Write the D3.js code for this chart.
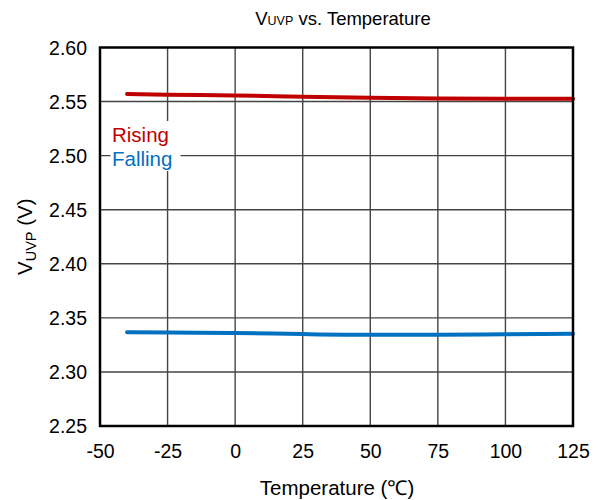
<!DOCTYPE html>
<html>
<head>
<meta charset="utf-8">
<script src="https://cdn.jsdelivr.net/npm/d3@7"></script>
<style>
  html, body { margin: 0; padding: 0; background: #fff; }
  svg { display: block; font-family: "Liberation Sans", Arial, sans-serif; }
</style>
</head>
<body>
<svg id="chart" width="599" height="500"></svg>
<script>
// Temperature sweep points (°C)
const temperatures = [-40, -25, 0, 25, 50, 75, 100, 125];
// Rising UVP threshold (V)
const risingValues = [2.5570, 2.5564, 2.5557, 2.5545, 2.5535, 2.5528, 2.5526, 2.5526];
// Falling UVP threshold (V)
const fallingValues = [2.3367, 2.3364, 2.3361, 2.3350, 2.3344, 2.3344, 2.3348, 2.3352];
const xTicks = [-50, -25, 0, 25, 50, 75, 100, 125];
const yTicks = [2.25, 2.30, 2.35, 2.40, 2.45, 2.50, 2.55, 2.60];
const seriesNames = ["Rising", "Falling"];
const seriesColors = ["#c00000", "#0070c0"];

const svg = d3.select("#chart");
const m = { left: 100, right: 573, top: 47.5, bottom: 426 };

const x = d3.scaleLinear().domain([-50, 125]).range([m.left, m.right]);
const y = d3.scaleLinear().domain([2.25, 2.60]).range([m.bottom, m.top]);

// Grid lines
const grid = svg.append("g");
grid.selectAll("line.v").data(xTicks.slice(1, -1)).enter().append("line")
  .attr("x1", d => x(d)).attr("x2", d => x(d))
  .attr("y1", m.top).attr("y2", m.bottom)
  .attr("stroke", "#444").attr("stroke-width", 1.4);
grid.selectAll("line.h").data(yTicks.slice(1, -1)).enter().append("line")
  .attr("x1", m.left).attr("x2", m.right)
  .attr("y1", d => y(d)).attr("y2", d => y(d))
  .attr("stroke", "#444").attr("stroke-width", 1.4);

// Data lines
const line = d3.line().x(d => x(d[0])).y(d => y(d[1])).curve(d3.curveMonotoneX);
[risingValues, fallingValues].forEach((vals, i) => {
  svg.append("path")
    .datum(temperatures.map((t, j) => [t, vals[j]]))
    .attr("d", line)
    .attr("fill", "none")
    .attr("stroke", seriesColors[i])
    .attr("stroke-width", 4)
    .attr("stroke-linecap", "round");
});

// Legend with white backing
const legend = svg.append("g");
legend.append("rect")
  .attr("x", 110.5).attr("y", 121).attr("width", 70).attr("height", 50)
  .attr("fill", "#fff");
seriesNames.forEach((name, i) => {
  legend.append("text")
    .attr("x", 112).attr("y", 141.5 + i * 24.5)
    .attr("font-size", 20.5)
    .attr("fill", seriesColors[i])
    .text(name);
});

// Plot frame
svg.append("rect")
  .attr("x", m.left).attr("y", m.top)
  .attr("width", m.right - m.left).attr("height", m.bottom - m.top)
  .attr("fill", "none").attr("stroke", "#000").attr("stroke-width", 2.5);

// Axes (labels only)
const xAxis = d3.axisBottom(x).tickValues(xTicks).tickSize(0).tickPadding(0).tickFormat(d => String(d));
const gx = svg.append("g").attr("transform", `translate(0,${m.bottom})`).call(xAxis);
gx.select(".domain").remove();
gx.selectAll("text").attr("font-size", 19.5).attr("fill", "#000")
  .attr("dy", 0).attr("y", 32).attr("font-family", "Liberation Sans, Arial, sans-serif");

const yAxis = d3.axisLeft(y).tickValues(yTicks).tickSize(0).tickPadding(0).tickFormat(d3.format(".2f"));
const gy = svg.append("g").attr("transform", `translate(${m.left},0)`).call(yAxis);
gy.select(".domain").remove();
gy.selectAll("text").attr("font-size", 19.5).attr("fill", "#000")
  .attr("x", -13).attr("dy", "0.35em").attr("font-family", "Liberation Sans, Arial, sans-serif");

// Title
const title = svg.append("text")
  .attr("x", 343).attr("y", 25).attr("text-anchor", "middle")
  .attr("font-size", 18.5).attr("fill", "#000");
title.append("tspan").text("V");
title.append("tspan").attr("font-size", 12.5).text("UVP");
title.append("tspan").text(" vs. Temperature");

// X axis title
svg.append("text")
  .attr("x", 337).attr("y", 495).attr("text-anchor", "middle")
  .attr("font-size", 20.5).attr("fill", "#000")
  .text("Temperature (℃)");

// Y axis title
const yt = svg.append("text")
  .attr("transform", `translate(32,${(m.top + m.bottom) / 2}) rotate(-90)`)
  .attr("text-anchor", "middle")
  .attr("font-size", 20.5).attr("fill", "#000");
yt.append("tspan").text("V");
yt.append("tspan").attr("font-size", 14.5).attr("dy", 4).text("UVP");
yt.append("tspan").attr("dy", -4).text(" (V)");
</script>
</body>
</html>
